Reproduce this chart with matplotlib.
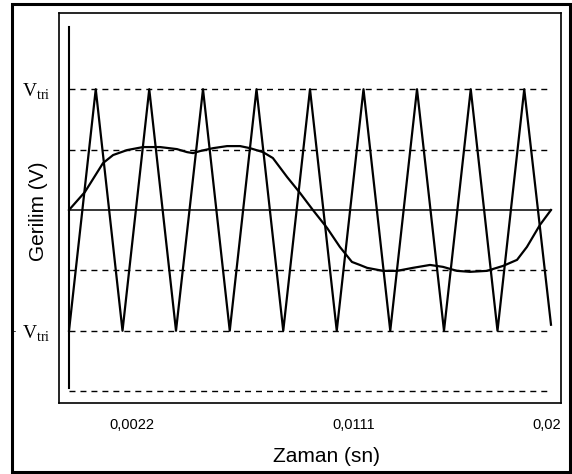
import matplotlib
matplotlib.use('Agg')
import matplotlib.pyplot as plt
import matplotlib.transforms as mtransforms
from matplotlib import font_manager
from matplotlib.patches import Rectangle

# carrier (triangle) vertices, in units of V_tri
tri_t = [0, 0.00111, 0.00222, 0.00333, 0.00444, 0.00556, 0.00667, 0.00778, 0.00889, 0.01,
         0.01111, 0.01222, 0.01333, 0.01444, 0.01556, 0.01667, 0.01778, 0.01889, 0.02]
tri_v = [-1, 1, -1, 1, -1, 1, -1, 1, -1, 1,
         -1, 1, -1, 1, -1, 1, -1, 1, -0.95]

# modulating wave
mod_t = [0, 0.00066, 0.00141, 0.00183, 0.00241, 0.00307, 0.00378, 0.00448, 0.00490, 0.00515,
         0.00544, 0.00598, 0.00656, 0.00710, 0.00751, 0.00805, 0.00846, 0.00905, 0.00959, 0.01012,
         0.01071, 0.01124, 0.01174, 0.01207, 0.01237, 0.01303, 0.01361, 0.01427, 0.01498, 0.01552,
         0.01610, 0.01664, 0.01734, 0.01801, 0.01859, 0.01900, 0.01954, 0.02]
mod_v = [0, 0.149, 0.388, 0.455, 0.496, 0.521, 0.521, 0.504, 0.479, 0.471,
         0.488, 0.512, 0.529, 0.529, 0.512, 0.479, 0.430, 0.273, 0.140, 0,
         -0.149, -0.306, -0.430, -0.455, -0.479, -0.504, -0.504, -0.479, -0.455, -0.471,
         -0.504, -0.512, -0.504, -0.463, -0.413, -0.306, -0.124, 0]

# reference levels (dashed) and tick labels
dash_levels = [1, 0.5, -0.5, -1, -1.5]
x_ticks = [0.00261, 0.01183, 0.01983]
x_tick_labels = ['0,0022', '0,0111', '0,02']
y_ticks = [1, -1]
y_tick_labels = [r'$\mathrm{V}_{\mathrm{tri}}$', r'$\mathrm{V}_{\mathrm{tri}}$']

# fonts
names = {f.name for f in font_manager.fontManager.ttflist}
narrow = 'Liberation Sans Narrow' if 'Liberation Sans Narrow' in names else 'Liberation Sans'
plt.rcParams['mathtext.fontset'] = 'custom'
plt.rcParams['mathtext.rm'] = 'Liberation Serif'
plt.rcParams['font.family'] = ['Liberation Sans', 'DejaVu Sans']

fig = plt.figure(figsize=(5.72, 4.74), dpi=100)
ax = fig.add_axes([59 / 572, 1 - 403 / 474, 502 / 572, 390 / 474])

# dashed guide lines and the solid zero line
for lvl in dash_levels:
    ax.plot([0, 0.02], [lvl, lvl], color='black', lw=1.0, linestyle=(0, (4.3, 3.6)))
ax.plot([0, 0.02], [0, 0], color='black', lw=1.1)
# vertical axis line
ax.plot([0, 0], [-1.474, 1.515], color='black', lw=1.5)

ax.plot(tri_t, tri_v, color='black', lw=1.6)
ax.plot(mod_t, mod_v, color='black', lw=1.6)

ax.set_xlim(-0.000415, 0.020415)
ax.set_ylim(-1.598, 1.631)

ax.set_xticks(x_ticks)
ax.set_xticklabels(x_tick_labels, family=narrow, fontsize=10.5 if narrow == 'Liberation Sans' else 12)
ax.set_yticks(y_ticks)
ax.set_yticklabels(y_tick_labels, fontsize=14)
ax.tick_params(axis='x', length=0, pad=10.5)
ax.tick_params(axis='y', length=0, pad=6.5)

# small minus sign in front of the lower V_tri
trans = mtransforms.blended_transform_factory(ax.transAxes, ax.transData)
ax.text(-0.0896, -1.0, '-', transform=trans, ha='center', va='center', fontsize=7)

ax.set_xlabel('Zaman (sn)', fontsize=15)
ax.xaxis.set_label_coords(0.532, -0.113)
ax.set_ylabel('Gerilim (V)', fontsize=15)
ax.yaxis.set_label_coords(-0.022, 0.492)

for s in ax.spines.values():
    s.set_linewidth(1.2)

# outer frame round the whole picture
fig.patches.append(Rectangle((12 / 572, 2 / 474), 558 / 572, 468 / 474, transform=fig.transFigure,
                             fill=False, edgecolor='black', lw=2.2))

plt.savefig('out.png', dpi=100)
